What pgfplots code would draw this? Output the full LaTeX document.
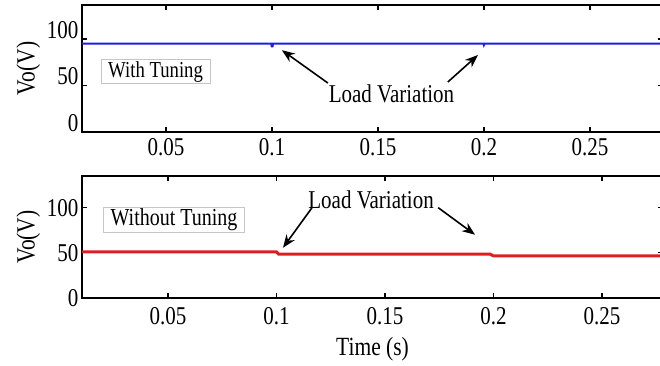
\documentclass[border=0pt]{standalone}
\usepackage{fontspec}
\setmainfont{Liberation Serif}
\usepackage{pgfplots}
\pgfplotsset{compat=1.18}
\usetikzlibrary{arrows.meta}
\newcommand{\st}[1]{\scalebox{1}[1.22]{#1}}
\tikzset{
 arr/.style={-{Stealth[length=13pt,width=10pt]}, line width=1.6pt, black},
 lg/.style={draw=gray!45, line width=0.6pt, fill=white, inner xsep=7pt, inner ysep=1.5pt},
}
\pgfplotsset{
 common/.style={scale only axis, width=581pt,
  axis line style={line width=1.3pt}, tick style={line width=1.3pt, black},
  major tick length=5pt, xmin=0.0104, ymin=0,
  xtick={0.05,0.1,0.15,0.2,0.25}, ytick={0,50,100},
  /pgf/number format/assume math mode=true, /pgf/number format/fixed,
  ticklabel style={font=\fontsize{21}{25}\selectfont},
  xticklabel={\st{\pgfmathprintnumber{\tick}}},
  yticklabel={\st{\pgfmathprintnumber{\tick}}},
  label style={font=\fontsize{21.5}{25}\selectfont},
  ylabel={\st{Vo(V)}},
  clip=false,
 },
}
\begin{document}
\begin{tikzpicture}
\begin{axis}[common, at={(82pt,-132pt)}, anchor=south west, height=127pt,
  xmax=0.2845, ymax=136.6, yticklabel style={yshift=9pt}, xticklabel style={yshift=-3pt}]
\addplot[color={rgb,255:red,30;green,30;blue,220}, line width=2pt] coordinates {
 (0.0104,95) (0.0997,95) (0.0999,92) (0.1003,92) (0.1005,95) (0.1998,95) (0.2,93.5) (0.2003,95) (0.2845,95)};
\node[lg, font=\fontsize{18.7}{22}\selectfont] at (axis cs:0.0451,65) {\st{With Tuning}};
\node[font=\fontsize{21}{25}\selectfont] at (axis cs:0.1564,40.9) {\st{Load Variation}};
\draw[arr] (axis cs:0.1264,52.7) -- (axis cs:0.1047,88);
\draw[arr] (axis cs:0.183,53.8) -- (axis cs:0.1972,82.8);
\end{axis}
\begin{axis}[common, at={(82pt,-298pt)}, anchor=south west, height=122pt,
  xmax=0.2781, ymax=135, xlabel={\st{Time (s)}},
  xticklabel style={yshift=-6pt}, xlabel style={yshift=-5pt}]
\addplot[color={rgb,255:red,220;green,30;blue,30}, line width=3pt] coordinates {
 (0.0104,51) (0.1,51) (0.101,48.5) (0.1985,48.5) (0.2,46.5) (0.2781,46.5)};
\node[lg, font=\fontsize{20}{24}\selectfont] at (axis cs:0.0528,86.7) {\st{Without Tuning}};
\node[font=\fontsize{21}{25}\selectfont] at (axis cs:0.1436,108.9) {\st{Load Variation}};
\draw[arr] (axis cs:0.1164,100) -- (axis cs:0.103,55.6);
\draw[arr] (axis cs:0.1745,100) -- (axis cs:0.1915,70);
\end{axis}
\pgfresetboundingbox
\path[use as bounding box] (0pt,0pt) rectangle (660pt,-365pt);
\end{tikzpicture}
\end{document}
